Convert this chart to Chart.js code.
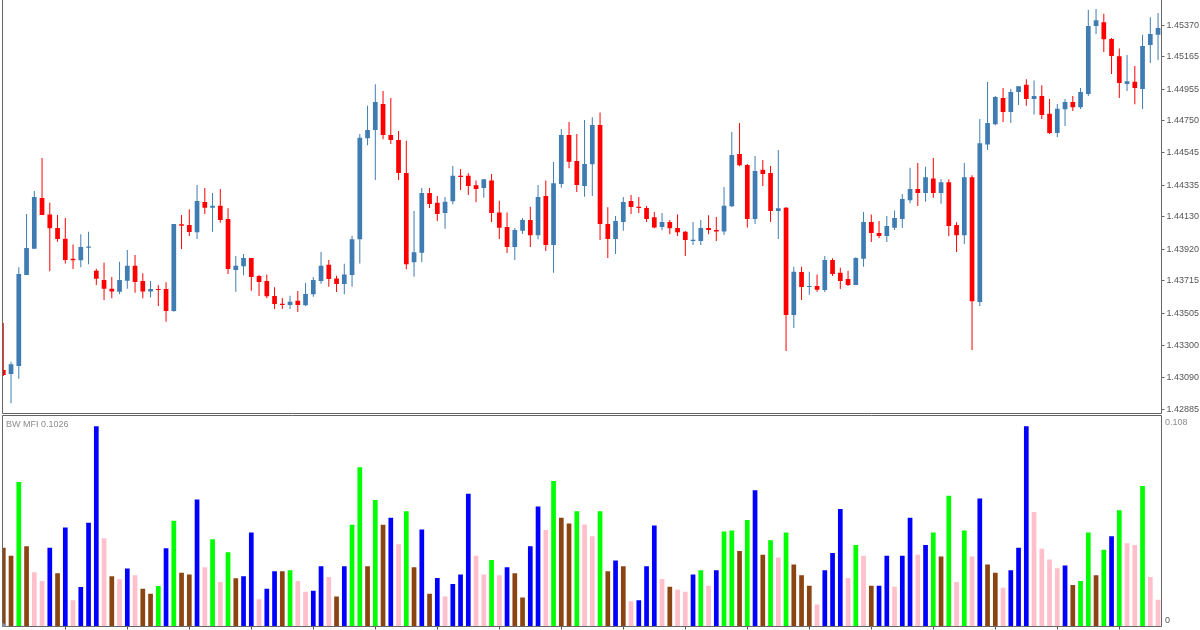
<!DOCTYPE html>
<html>
<head>
<meta charset="utf-8">
<title>BW MFI</title>
<script src="https://cdn.jsdelivr.net/npm/chart.js@4"></script>
<style>
  html, body { margin: 0; padding: 0; background: #ffffff; overflow: hidden; }
  canvas { position: absolute; left: 0; }
  #priceChart { top: 0; }
  #mfiChart { top: 414px; }
</style>
</head>
<body>
<canvas id="priceChart" width="1200" height="414"></canvas>
<canvas id="mfiChart" width="1200" height="216"></canvas>
<script>
// candles
const opens = [
  1.43138,1.43112,1.43164,1.43753,1.43923,1.44251,1.44145,1.44057,1.43988,1.43858,
  1.43848,1.43929,1.43781,1.43720,1.43664,1.43645,1.43716,1.43813,1.43714,1.43647,
  1.43662,1.43662,1.43520,1.44081,1.44076,1.44029,1.44225,1.44188,1.44201,1.44115,
  1.43785,1.43809,1.43863,1.43746,1.43714,1.43617,1.43567,1.43559,1.43586,1.43557,
  1.43628,1.43714,1.43819,1.43731,1.43695,1.43753,1.43984,1.44637,1.44691,1.44859,
  1.44659,1.44626,1.44413,1.43835,1.43897,1.44283,1.44221,1.44154,1.44230,1.44395,
  1.44395,1.44333,1.44316,1.44365,1.44158,1.44063,1.43934,1.44039,1.44109,1.44010,
  1.44264,1.43947,1.44342,1.44659,1.44490,1.44329,1.44469,1.44723,1.44083,1.43986,
  1.44096,1.44232,1.44195,1.44186,1.44126,1.44063,1.44096,1.44057,1.44033,1.43973,
  1.43973,1.44057,1.44044,1.44035,1.44197,1.44536,1.44464,1.44115,1.44434,1.44413,
  1.44167,1.44188,1.43494,1.43772,1.43675,1.43682,1.43656,1.43850,1.43768,1.43727,
  1.43688,1.43858,1.44096,1.44024,1.44005,1.44059,1.44115,1.44236,1.44309,1.44283,
  1.44378,1.44283,1.44353,1.44076,1.44010,1.44385,1.43578,1.44598,1.44728,1.44898,
  1.44807,1.44937,1.44984,1.44891,1.44911,1.44796,1.44671,1.44825,1.44872,1.44838,
  1.44924,1.45364,1.45388,1.45280,1.45168,1.44989,1.45003,1.44956,1.45241,1.45307
];
const closes = [
  1.43106,1.43175,1.43759,1.43927,1.44257,1.44141,1.44055,1.43986,1.43850,1.43848,
  1.43934,1.43938,1.43729,1.43664,1.43647,1.43720,1.43813,1.43707,1.43647,1.43662,
  1.43656,1.43520,1.44083,1.44072,1.44031,1.44232,1.44188,1.44201,1.44109,1.43792,
  1.43813,1.43863,1.43740,1.43707,1.43615,1.43565,1.43559,1.43580,1.43559,1.43630,
  1.43720,1.43813,1.43727,1.43695,1.43757,1.43984,1.44641,1.44691,1.44872,1.44659,
  1.44626,1.44413,1.43822,1.43900,1.44283,1.44212,1.44147,1.44227,1.44395,1.44387,
  1.44329,1.44309,1.44372,1.44154,1.44059,1.43934,1.44044,1.44109,1.44010,1.44257,
  1.43947,1.44346,1.44659,1.44486,1.44335,1.44471,1.44723,1.44083,1.43986,1.44102,
  1.44225,1.44193,1.44186,1.44115,1.44061,1.44096,1.44055,1.44029,1.43979,1.43981,
  1.44057,1.44044,1.44035,1.44201,1.44529,1.44463,1.44115,1.44426,1.44406,1.44167,
  1.44184,1.43494,1.43774,1.43675,1.43682,1.43658,1.43850,1.43759,1.43714,1.43688,
  1.43863,1.44096,1.44024,1.44005,1.44070,1.44122,1.44244,1.44309,1.44283,1.44385,
  1.44283,1.44353,1.44070,1.44010,1.44385,1.43583,1.44605,1.44736,1.44904,1.44807,
  1.44937,1.44974,1.44891,1.44911,1.44788,1.44671,1.44829,1.44872,1.44838,1.44937,
  1.45364,1.45401,1.45278,1.45170,1.44995,1.45006,1.44963,1.45234,1.45312,1.45351
];
const highs = [
  1.43442,1.43192,1.43803,1.44147,1.44296,1.44510,1.44221,1.44141,1.44122,1.43951,
  1.44016,1.44033,1.43794,1.43832,1.43740,1.43839,1.43914,1.43882,1.43764,1.43714,
  1.43688,1.43706,1.44083,1.44141,1.44178,1.44335,1.44316,1.44283,1.44309,1.44184,
  1.43876,1.43889,1.43863,1.43753,1.43757,1.43673,1.43604,1.43619,1.43649,1.43701,
  1.43740,1.43902,1.43850,1.43748,1.43826,1.44007,1.44665,1.44848,1.44987,1.44943,
  1.44898,1.44684,1.44622,1.44167,1.44316,1.44316,1.44264,1.44257,1.44458,1.44439,
  1.44411,1.44365,1.44372,1.44406,1.44233,1.44158,1.44057,1.44122,1.44195,1.44335,
  1.44365,1.44484,1.44697,1.44743,1.44665,1.44756,1.44773,1.44805,1.44191,1.44134,
  1.44257,1.44270,1.44257,1.44199,1.44160,1.44154,1.44109,1.44145,1.44037,1.44096,
  1.44109,1.44139,1.44128,1.44322,1.44678,1.44736,1.44471,1.44523,1.44497,1.44458,
  1.44561,1.44193,1.43806,1.43806,1.43774,1.43757,1.43876,1.43861,1.43800,1.43781,
  1.43867,1.44160,1.44145,1.44102,1.44134,1.44171,1.44277,1.44447,1.44477,1.44453,
  1.44510,1.44372,1.44372,1.44094,1.44477,1.44398,1.44762,1.45001,1.44911,1.44963,
  1.44956,1.44974,1.45019,1.45012,1.44980,1.44891,1.44859,1.44891,1.44911,1.44963,
  1.45469,1.45474,1.45443,1.45286,1.45219,1.45176,1.45105,1.45307,1.45420,1.45448
];
const lows = [
  1.43099,1.42923,1.43082,1.43753,1.43923,1.44141,1.43777,1.43968,1.43828,1.43792,
  1.43803,1.43822,1.43688,1.43591,1.43602,1.43628,1.43664,1.43638,1.43602,1.43608,
  1.43552,1.43451,1.43515,1.43921,1.44005,1.43986,1.44147,1.44033,1.44091,1.43759,
  1.43645,1.43751,1.43651,1.43617,1.43602,1.43533,1.43533,1.43533,1.43513,1.43552,
  1.43612,1.43696,1.43677,1.43643,1.43628,1.43677,1.43828,1.44592,1.44367,1.44631,
  1.44600,1.44367,1.43790,1.43742,1.43835,1.44186,1.44102,1.44052,1.44210,1.44303,
  1.44270,1.44223,1.44253,1.44096,1.43986,1.43895,1.43850,1.44018,1.43934,1.43984,
  1.43908,1.43768,1.44318,1.44443,1.44290,1.44259,1.44264,1.43979,1.43863,1.43889,
  1.44039,1.44147,1.44154,1.44096,1.44055,1.44042,1.44016,1.44005,1.43876,1.43947,
  1.43947,1.44016,1.43973,1.44012,1.44193,1.44456,1.44061,1.44083,1.44329,1.44096,
  1.43986,1.43261,1.43410,1.43591,1.43625,1.43645,1.43643,1.43746,1.43662,1.43682,
  1.43688,1.43806,1.43966,1.43992,1.43966,1.44044,1.44057,1.44217,1.44199,1.44227,
  1.44253,1.44214,1.44003,1.43902,1.43953,1.43267,1.43552,1.44561,1.44721,1.44743,
  1.44736,1.44853,1.44848,1.44792,1.44762,1.44665,1.44644,1.44717,1.44814,1.44827,
  1.44911,1.45312,1.45196,1.45053,1.44898,1.44943,1.44857,1.44827,1.45124,1.45144
];

// BW MFI histogram, g = green, r = fade (brown), b = fake (blue), p = squat (pink)
const mfiValues = [
  .0403,.0363,.0740,.0411,.0278,.0233,.0403,.0273,.0507,.0134,
  .0202,.0531,.1026,.0452,.0257,.0242,.0297,.0262,.0194,.0168,
  .0207,.0401,.0542,.0276,.0267,.0651,.0303,.0447,.0228,.0381,
  .0247,.0257,.0482,.0139,.0194,.0283,.0283,.0288,.0233,.0178,
  .0183,.0309,.0254,.0154,.0309,.0521,.0816,.0309,.0648,.0521,
  .0557,.0422,.0591,.0303,.0497,.0168,.0249,.0154,.0218,.0267,
  .0680,.0363,.0267,.0341,.0262,.0303,.0273,.0149,.0411,.0615,
  .0494,.0746,.0557,.0528,.0591,.0523,.0463,.0591,.0283,.0338,
  .0309,.0129,.0134,.0309,.0518,.0243,.0204,.0189,.0178,.0267,
  .0288,.0209,.0288,.0487,.0492,.0387,.0545,.0698,.0367,.0442,
  .0353,.0482,.0317,.0262,.0209,.0113,.0288,.0377,.0602,.0249,
  .0417,.0363,.0209,.0209,.0362,.0204,.0362,.0557,.0367,.0417,
  .0482,.0358,.0670,.0228,.0492,.0358,.0656,.0317,.0276,.0199,
  .0288,.0403,.1026,.0586,.0398,.0343,.0298,.0312,.0213,.0233,
  .0482,.0262,.0393,.0463,.0596,.0427,.0417,.0720,.0254,.0137
];
const mfiKinds = (
  "rrgrppbrbp" + "bbbprpbprr" + "gbgrrbpgpg" + "rbbpbbrgpp" + "bbprbggrgr" +
  "bpgrbrbpbb" + "bppgpbrrbb" + "pgrrgppgrb" + "rpbbbprppb" + "gpbggrgbrg" +
  "pgrrrpbbbp" + "gprbbpbbpb" + "grgpgpbrrp" + "bbbppppbrg" + "grgbgppgpp"
).split("");

// axis labels
const priceTickLabels = ["1.45370","1.45165","1.44955","1.44750","1.44545","1.44335","1.44130","1.43920","1.43715","1.43505","1.43300","1.43090","1.42885"];
const timeTicks = [8,16,24,32,40,48,56,64,72,80,88,96,104,112,120,128,136,144];
const mfiTickLabels = ["0.108","0"];
const mfiTitle = "BW MFI 0.1026";

const UP = "#3f7cb2";
const DOWN = "#ff0000";
const KIND_COLORS = { g: "#00ff00", r: "#8b4513", b: "#0000ff", p: "#ffc0cb" };
const FRAME = "#666666";
const TEXT = "#555555";
const TEXT_LIGHT = "#8c8c8c";
const FONT = "Liberation Sans";

const idx = opens.map((_, i) => i);
const candleColor = idx.map((i) => (closes[i] < opens[i] ? DOWN : UP));

// the price pane has no line along its top edge
function frame(closedTop) {
  return {
    id: "frame",
    afterDraw(chart) {
      const { ctx, chartArea: a } = chart;
      ctx.save();
      ctx.strokeStyle = FRAME;
      ctx.lineWidth = 1;
      ctx.beginPath();
      ctx.moveTo(a.left, closedTop ? a.top : 0);
      ctx.lineTo(a.left, a.bottom);
      ctx.lineTo(a.right, a.bottom);
      ctx.lineTo(a.right, closedTop ? a.top : 0);
      if (closedTop) ctx.closePath();
      ctx.stroke();
      ctx.restore();
    },
  };
}

// MT5 keeps the indicator labels inside the pane, so they sit off their ticks
const mfiTextPlugin = {
  id: "mfiText",
  afterDraw(chart) {
    const { ctx, chartArea: a, scales } = chart;
    ctx.save();
    ctx.font = "9px '" + FONT + "'";
    ctx.fillStyle = TEXT_LIGHT;
    ctx.textBaseline = "middle";
    ctx.fillText(mfiTitle, a.left + 3.5, a.top + 9.5);
    ctx.fillText(mfiTickLabels[0], a.right + 3.5, scales.y.getPixelForValue(0.108) + 6.5);
    ctx.fillStyle = TEXT;
    ctx.fillText(mfiTickLabels[1], a.right + 3.5, scales.y.getPixelForValue(0) - 6);
    // small scale-fix marker in the corner
    ctx.fillStyle = "#8a97a8";
    ctx.beginPath();
    ctx.moveTo(a.left, a.bottom - 4);
    ctx.lineTo(a.left + 5, a.bottom);
    ctx.lineTo(a.left, a.bottom);
    ctx.closePath();
    ctx.fill();
    ctx.restore();
  },
};

function xAxis(visible) {
  return {
    type: "linear",
    offset: false,
    min: -0.103,
    max: 149.445,
    display: visible,
    afterBuildTicks: (s) => { s.ticks = timeTicks.map((v) => ({ value: v })); },
    afterFit: (s) => { s.height = visible ? 3.5 : 0; s.paddingLeft = 0; s.paddingRight = 0; },
    ticks: { display: false },
    grid: { offset: false, drawOnChartArea: false, drawTicks: true, tickLength: 3, color: "#555555" },
    border: { display: false },
  };
}

new Chart(document.getElementById("priceChart"), {
  type: "bar",
  data: {
    datasets: [
      {
        label: "body",
        data: idx.map((i) => ({ x: i, y: [opens[i], closes[i]] })),
        backgroundColor: candleColor,
        barThickness: 4.7,
        inflateAmount: 0,
        grouped: false,
      },
      {
        label: "wick",
        data: idx.map((i) => ({ x: i, y: [lows[i], highs[i]] })),
        backgroundColor: candleColor,
        barThickness: 1,
        inflateAmount: 0,
        grouped: false,
      },
    ],
  },
  options: {
    responsive: false,
    animation: false,
    layout: { padding: { left: 2.5, bottom: 0.5 } },
    plugins: { legend: { display: false }, tooltip: { enabled: false } },
    scales: {
      x: xAxis(false),
      y: {
        position: "right",
        min: 1.42857,
        max: 1.45532,
        afterBuildTicks: (s) => { s.ticks = priceTickLabels.map((v) => ({ value: parseFloat(v) })); },
        afterFit: (s) => { s.width = 38.5; s.paddingTop = 0; s.paddingBottom = 0; },
        ticks: {
          autoSkip: false,
          padding: 2,
          color: TEXT,
          font: { family: FONT, size: 9 },
          callback: (v, i) => priceTickLabels[i],
        },
        grid: { drawOnChartArea: false, drawTicks: true, tickLength: 3, color: FRAME },
        border: { display: false },
      },
    },
  },
  plugins: [frame(false)],
});

new Chart(document.getElementById("mfiChart"), {
  type: "bar",
  data: {
    datasets: [
      {
        label: "BW MFI",
        data: idx.map((i) => ({ x: i, y: mfiValues[i] })),
        backgroundColor: mfiKinds.map((k) => KIND_COLORS[k]),
        barThickness: 4.7,
        inflateAmount: 0,
      },
    ],
  },
  options: {
    responsive: false,
    animation: false,
    layout: { padding: { left: 2.5, top: 1.5 } },
    plugins: { legend: { display: false }, tooltip: { enabled: false } },
    scales: {
      x: xAxis(true),
      y: {
        position: "right",
        min: 0,
        max: 0.1081,
        afterBuildTicks: (s) => { s.ticks = [{ value: 0.108 }, { value: 0 }]; },
        afterFit: (s) => { s.width = 38.5; s.paddingTop = 0; s.paddingBottom = 0; },
        ticks: { display: false },
        grid: { display: false },
        border: { display: false },
      },
    },
  },
  plugins: [frame(true), mfiTextPlugin],
});
</script>
</body>
</html>
